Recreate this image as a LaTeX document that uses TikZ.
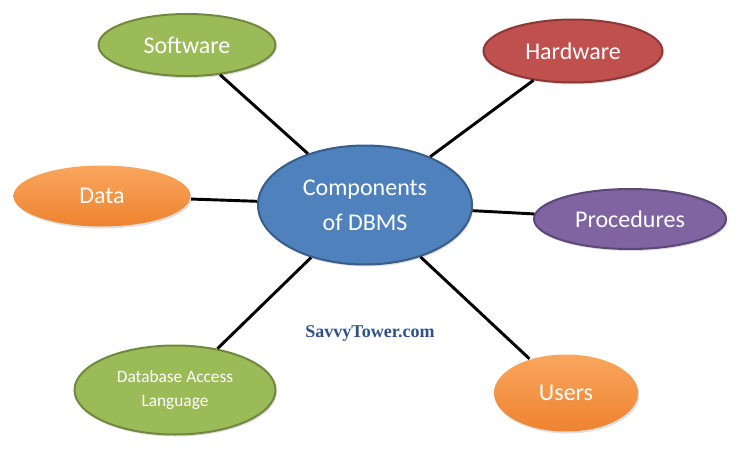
\documentclass[tikz,border=0pt]{standalone}
\usepackage{fontspec}
\setsansfont{Carlito}
\newfontfamily\markfont{Liberation Serif}
\usepackage{tikz}
\usetikzlibrary{shapes.geometric,shadows}

\definecolor{greenfill}{HTML}{9BBB59}
\definecolor{greenline}{HTML}{71893F}
\definecolor{redfill}{HTML}{C0504D}
\definecolor{redline}{HTML}{8C3836}
\definecolor{bluefill}{HTML}{4F81BD}
\definecolor{blueline}{HTML}{385D8A}
\definecolor{purplefill}{HTML}{8064A2}
\definecolor{purpleline}{HTML}{5C4776}
\definecolor{orangetop}{HTML}{F9A65E}
\definecolor{orangebot}{HTML}{EE8330}
\definecolor{marktext}{HTML}{2F5188}

\begin{document}
\begin{tikzpicture}[x=0.75pt, y=-0.75pt,
		comp_style/.style={ellipse,inner sep=0pt,line width=1.5pt,text=white,
			font=\sffamily\fontsize{18}{18}\selectfont,
			drop shadow={shadow xshift=1pt,shadow yshift=-1.5pt,opacity=0.25}},
		green_style/.style={comp_style,fill=greenfill,draw=greenline},
		red_style/.style={comp_style,fill=redfill,draw=redline},
		blue_style/.style={comp_style,fill=bluefill,draw=blueline},
		purple_style/.style={comp_style,fill=purplefill,draw=purpleline},
		orange_style/.style={comp_style,top color=orangetop,bottom color=orangebot,draw=none},
		edge_style/.style={draw=black,line width=2.2pt}]

		\useasboundingbox (0,0) rectangle (738,467);

		\node[blue_style,minimum width=160.5pt,minimum height=89.25pt,align=center,
			font=\sffamily\fontsize{18}{26}\selectfont] (dbms) at (365,205) {Components\\of DBMS};
		\node[green_style,minimum width=132.75pt,minimum height=46.5pt] (sw) at (187,45) {Software};
		\node[red_style,minimum width=134.25pt,minimum height=47.25pt] (hw) at (573,51) {Hardware};
		\node[orange_style,minimum width=132.75pt,minimum height=45.75pt] (data) at (102,196) {Data};
		\node[purple_style,minimum width=144pt,minimum height=45pt] (proc) at (630,219) {Procedures};
		\node[green_style,minimum width=150.75pt,minimum height=66.75pt,align=center,
			font=\sffamily\fontsize{13}{18}\selectfont] (dal) at (175,390) {Database Access\\Language};
		\node[orange_style,minimum width=108pt,minimum height=57.75pt] (users) at (566,393) {Users};

		\node[text=marktext,font=\markfont\bfseries\fontsize{13.5}{15}\selectfont] (mark) at (370,333) {SavvyTower.com};

		\draw[edge_style]  (dbms) edge node{} (sw);
		\draw[edge_style]  (dbms) edge node{} (hw);
		\draw[edge_style]  (dbms) edge node{} (data);
		\draw[edge_style]  (dbms) edge node{} (proc);
		\draw[edge_style]  (dbms) edge node{} (dal);
		\draw[edge_style]  (dbms) edge node{} (users);
		\end{tikzpicture}
\end{document}
